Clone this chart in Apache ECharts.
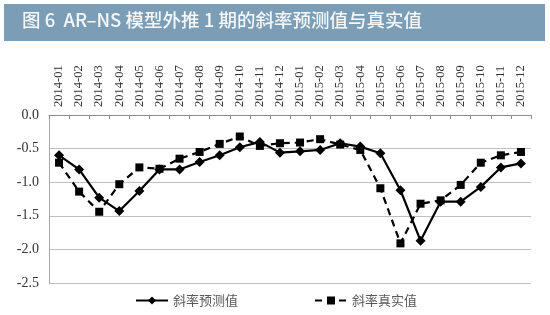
<!DOCTYPE html>
<html>
<head>
<meta charset="utf-8">
<script src="https://cdn.jsdelivr.net/npm/echarts@6/dist/echarts.min.js"></script>
<style>
html,body{margin:0;padding:0;background:#fff;}
#c{width:550px;height:315px;}
</style>
</head>
<body>
<div id="c"></div>
<script>
var categories = ['2014-01','2014-02','2014-03','2014-04','2014-05','2014-06','2014-07','2014-08','2014-09','2014-10','2014-11','2014-12',
  '2015-01','2015-02','2015-03','2015-04','2015-05','2015-06','2015-07','2015-08','2015-09','2015-10','2015-11','2015-12'];
var predicted = [-0.60,-0.81,-1.23,-1.43,-1.13,-0.81,-0.81,-0.70,-0.60,-0.48,-0.40,-0.56,
  -0.54,-0.52,-0.42,-0.47,-0.57,-1.12,-1.87,-1.29,-1.29,-1.07,-0.78,-0.72];
var actual = [-0.71,-1.14,-1.44,-1.03,-0.78,-0.80,-0.65,-0.55,-0.43,-0.32,-0.46,-0.42,
  -0.41,-0.36,-0.44,-0.52,-1.09,-1.91,-1.32,-1.27,-1.04,-0.71,-0.60,-0.55];
var seriesNames = ['斜率预测值','斜率真实值'];
var titleText = '图 6  AR–NS 模型外推 1 期的斜率预测值与真实值';
var serifFont = '"Liberation Serif", "Times New Roman", "DejaVu Serif", serif';

var chart = echarts.init(document.getElementById('c'));
chart.setOption({
  animation: false,
  backgroundColor: '#fff',
  graphic: [
    {type:'rect', left:4, top:4, shape:{width:541, height:37}, style:{fill:'#7b9db6'}},
    {type:'text', left:22, top:11, style:{text:titleText, fill:'#f5f7f9', font:'500 18.5px "Noto Sans CJK SC"'}}
  ],
  grid: {left:49, right:19, top:115, bottom:32},
  legend: {
    left:130, bottom:3, itemGap:76, itemWidth:32, itemHeight:10,
    textStyle:{color:'#595959', fontSize:13, fontFamily:'"Noto Sans CJK SC"'},
    data: seriesNames
  },
  xAxis: {
    type:'category', position:'top', data:categories, boundaryGap:true,
    axisLine:{lineStyle:{color:'#8c8c8c', width:1}},
    axisTick:{show:true, inside:true, length:4, lineStyle:{color:'#8c8c8c'}},
    axisLabel:{interval:0, rotate:90, margin:8, color:'#333', fontSize:12.5, fontFamily:serifFont}
  },
  yAxis: {
    type:'value', min:-2.5, max:0, interval:0.5,
    axisLine:{show:true, lineStyle:{color:'#a6a6a6'}},
    axisTick:{show:false},
    splitLine:{lineStyle:{color:'#bfbfbf'}},
    axisLabel:{color:'#333', fontSize:14, margin:10, fontFamily:serifFont, formatter:function(v){return v.toFixed(1);}}
  },
  series: [
    {name:seriesNames[0], type:'line', data:predicted, symbol:'diamond', symbolSize:10,
     lineStyle:{color:'#000', width:2.2}, itemStyle:{color:'#000'}},
    {name:seriesNames[1], type:'line', data:actual, symbol:'rect', symbolSize:8,
     lineStyle:{color:'#000', width:2.2, type:[7,5]}, itemStyle:{color:'#000'}}
  ]
});
</script>
</body>
</html>
